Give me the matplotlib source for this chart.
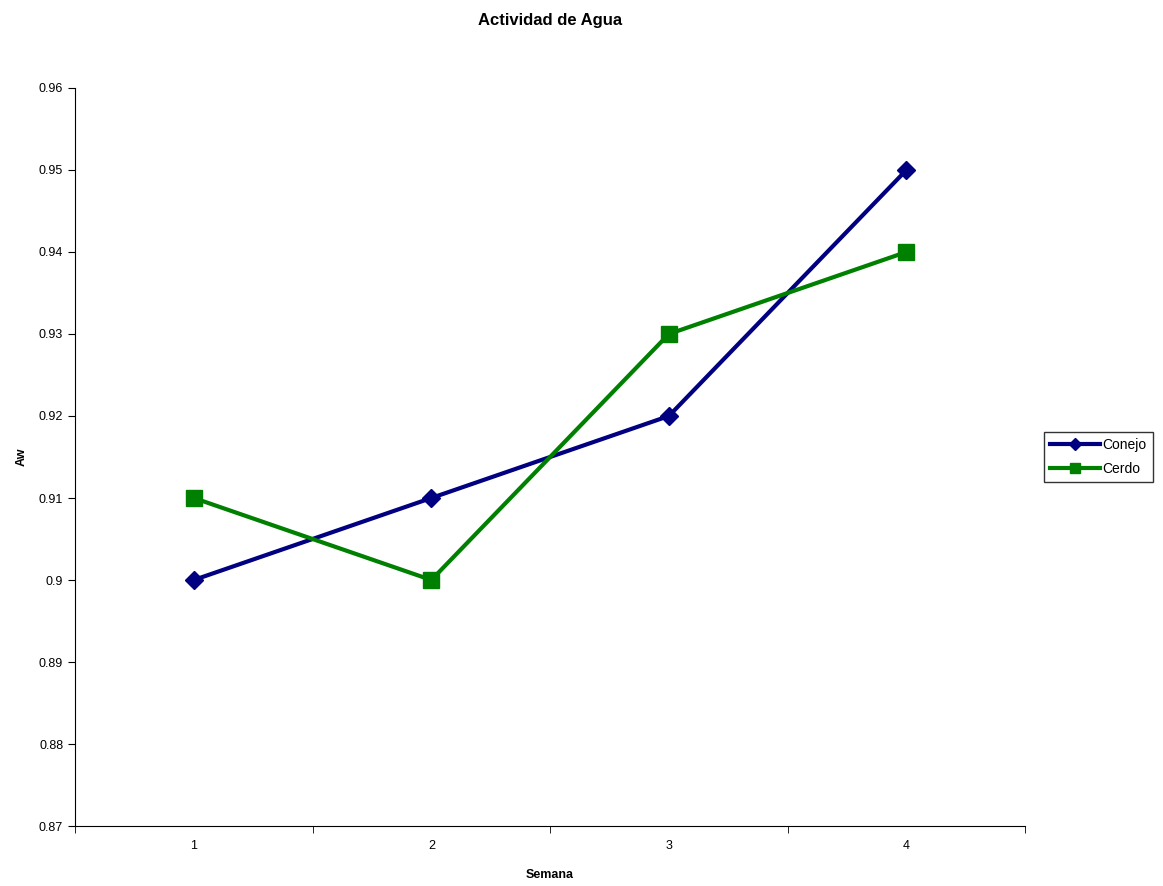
import matplotlib
matplotlib.use('Agg')
import matplotlib.pyplot as plt
import numpy as np

plt.rcParams['font.family'] = ['Liberation Sans', 'DejaVu Sans']

# data
semana = [1, 2, 3, 4]
conejo = [0.90, 0.91, 0.92, 0.95]
cerdo = [0.91, 0.90, 0.93, 0.94]
ytick_vals = [0.87, 0.88, 0.89, 0.90, 0.91, 0.92, 0.93, 0.94, 0.95, 0.96]
ytick_labels = ['0.87', '0.88', '0.89', '0.9', '0.91', '0.92', '0.93', '0.94', '0.95', '0.96']

fig = plt.figure(figsize=(11.63, 8.86), dpi=100)
ax = fig.add_axes([0.0645, 0.0677, 0.817, 0.833])

ax.plot(semana, conejo, color='#000080', lw=3, marker='D', ms=9, label='Conejo')
ax.plot(semana, cerdo, color='#008000', lw=3, marker='s', ms=12, label='Cerdo')

ax.set_xlim(0.5, 4.5)
ax.set_ylim(0.87, 0.96)
ax.set_yticks(ytick_vals)
ax.set_yticklabels(ytick_labels)
ax.set_xticks(semana)
ax.set_xticks([0.5, 1.5, 2.5, 3.5, 4.5], minor=True)
ax.tick_params(axis='x', which='major', length=0, pad=10, labelsize=9)
ax.tick_params(axis='x', which='minor', length=5, direction='out')
ax.tick_params(axis='y', length=5, direction='out', labelsize=9)

for s in ['top', 'right']:
    ax.spines[s].set_visible(False)

fig.text(0.4733, 0.977, 'Actividad de Agua', fontsize=12, weight='bold',
         ha='center', va='center')
ax.set_xlabel('Semana', fontsize=9, weight='bold', labelpad=12)
ax.set_ylabel('Aw', fontsize=9, weight='bold', labelpad=8)

leg = ax.legend(loc='center left', bbox_to_anchor=(1.012, 0.5), fontsize=10,
                frameon=True, fancybox=False, edgecolor='black',
                handlelength=3.6, handletextpad=0.2, borderpad=0.45,
                labelspacing=0.75, markerscale=0.65)
leg.get_frame().set_linewidth(1)

fig.savefig('out.png', dpi=100)
